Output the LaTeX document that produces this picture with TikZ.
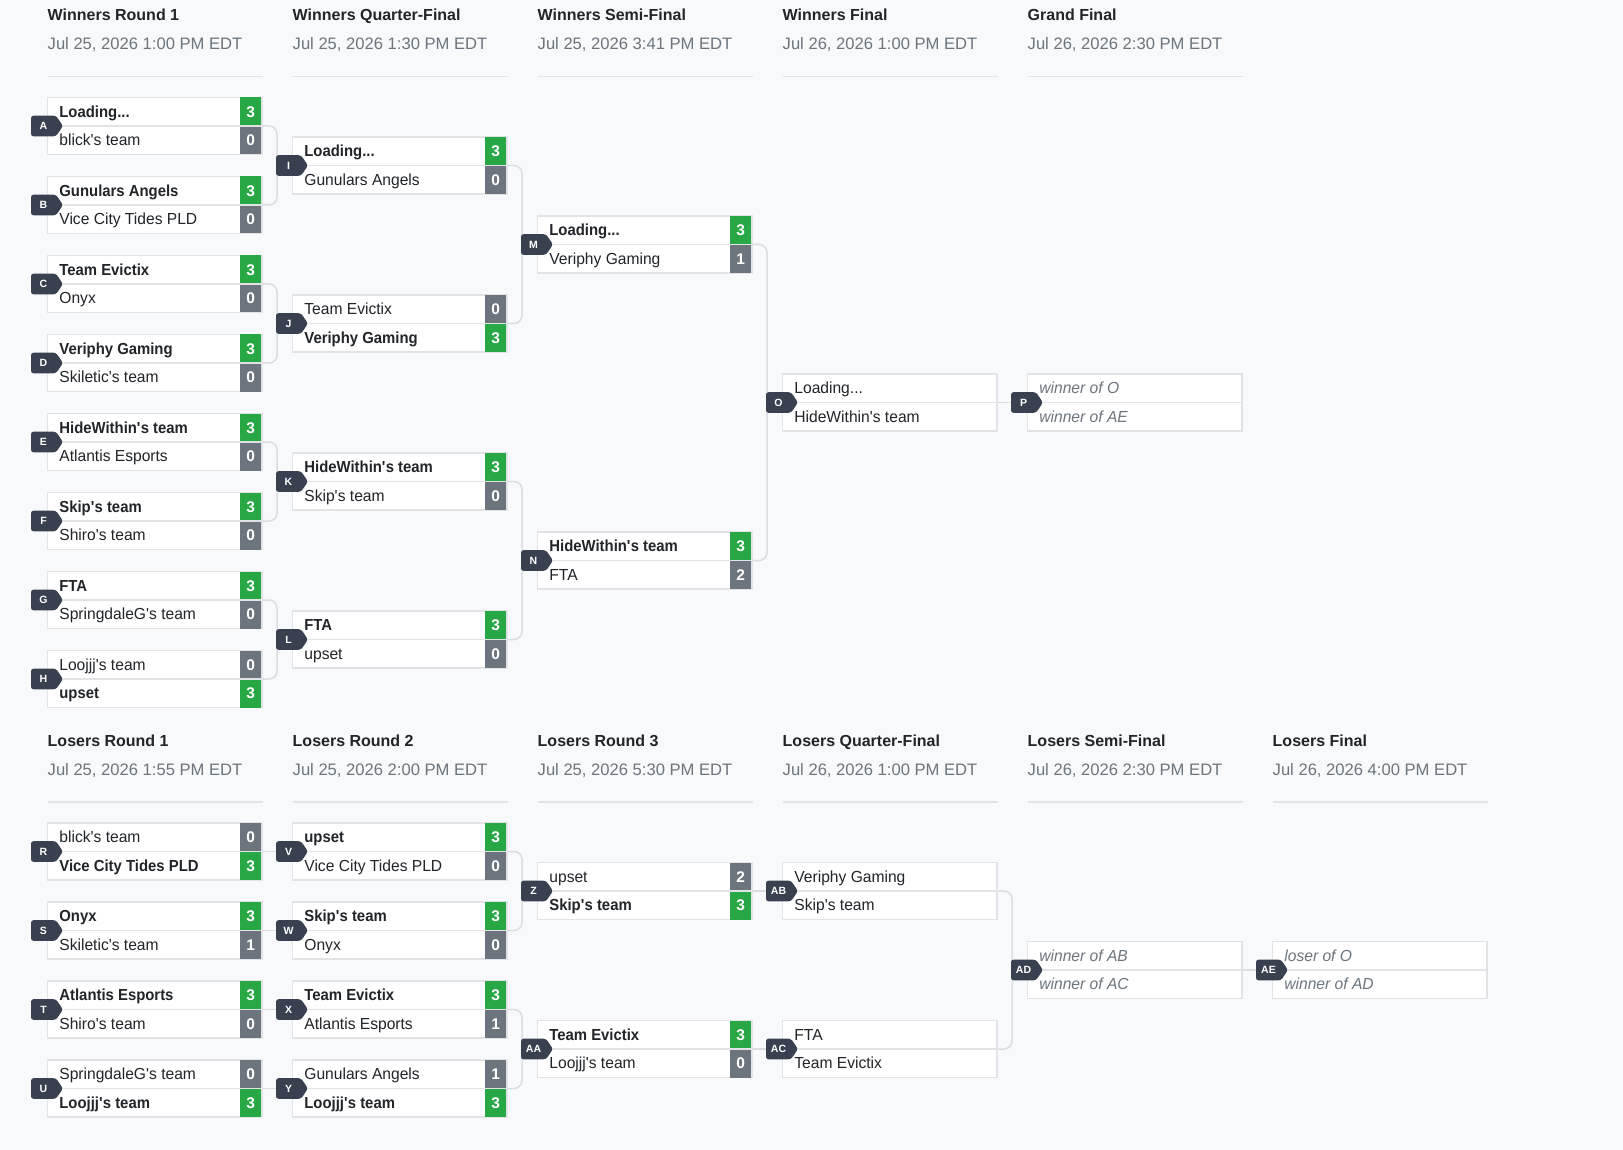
\documentclass[tikz,border=0pt]{standalone}
\usepackage{fontspec}
\setmainfont{Liberation Sans}
\newfontfamily\wnfont{Liberation Sans}[FakeStretch=0.93]
\newfontfamily\tmfont{Liberation Sans}[FakeStretch=0.975]
\usetikzlibrary{calc}
\definecolor{bgc}{HTML}{F8F9FA}
\definecolor{bordc}{HTML}{E1E3E6}
\definecolor{connc}{HTML}{DADDE1}
\definecolor{winc}{HTML}{28A745}
\definecolor{losec}{HTML}{6C757D}
\definecolor{badgec}{HTML}{394150}
\definecolor{titlec}{HTML}{212529}
\definecolor{datec}{HTML}{6C757D}
\definecolor{phc}{HTML}{6C757D}
\pgfdeclarelayer{bglayer}
\pgfdeclarelayer{connlayer}
\pgfsetlayers{bglayer,connlayer,main}
\newcommand\aps{\textquotesingle}
\newcommand\wn[1]{{\wnfont\bfseries #1}}
\tikzset{
 matchbox/.style={draw=bordc, line width=1.5pt, fill=white, minimum width=214.5pt, minimum height=57pt, inner sep=0pt, outer sep=0pt, anchor=west},
 rowline/.style={draw=bordc, line width=1.2pt},
 conn/.style={draw=connc, line width=1.5pt, rounded corners=8pt},
 team/.style={anchor=base west, inner sep=0pt, text=titlec, font=\tmfont\fontsize{16}{19}\selectfont},
 ph/.style={anchor=base west, inner sep=0pt, text=phc, font=\tmfont\itshape\fontsize{16}{19}\selectfont},
 scorebox/.style={minimum width=21pt, minimum height=28.5pt, inner sep=0pt, text=white, font=\bfseries\fontsize{15.5}{18}\selectfont, text height=11pt, text depth=0pt},
 badgetxt/.style={text=white, font=\bfseries\fontsize{10.5}{12}\selectfont, inner sep=0pt},
 roundtitle/.style={anchor=base west, inner sep=0pt, text=titlec, font=\bfseries\fontsize{16}{19}\selectfont},
 rounddate/.style={anchor=base west, inner sep=0pt, text=datec, font=\fontsize{16.6}{19}\selectfont},
 hdrline/.style={draw=bordc, line width=1.5pt},
}
% name, x, y, top team, top score, top colour, bottom team, bottom score, bottom colour
\newcommand\mtch[9]{%
 \node[matchbox] (#1) at (#2,#3) {};
 \node[scorebox, fill=#6] (#1sa) at (#2+203.25,#3-14.25) {#5};
 \node[scorebox, fill=#9] (#1sb) at (#2+203.25,#3+14.25) {#8};
 \draw[rowline] (#1.west) -- (#1.east);
 \node[team] (#1ta) at (#2+11.7,#3-8.75) {#4};
 \node[team] (#1tb) at (#2+11.7,#3+19.75) {#7};
 \fill[badgec, rounded corners=2.5pt] (#2-16.5,#3-10.3) -- (#2+8.5,#3-10.3) -- (#2+15.5,#3) -- (#2+8.5,#3+10.3) -- (#2-16.5,#3+10.3) -- cycle;
 \node[badgetxt] (b#1) at (#2-4,#3) {#1};
}
% name, x, y, style, top team, bottom team
\newcommand\mtchn[6]{%
 \node[matchbox] (#1) at (#2,#3) {};
 \draw[rowline] (#1.west) -- (#1.east);
 \node[#4] (#1ta) at (#2+11.7,#3-8.75) {#5};
 \node[#4] (#1tb) at (#2+11.7,#3+19.75) {#6};
 \fill[badgec, rounded corners=2.5pt] (#2-16.5,#3-10.3) -- (#2+8.5,#3-10.3) -- (#2+15.5,#3) -- (#2+8.5,#3+10.3) -- (#2-16.5,#3+10.3) -- cycle;
 \node[badgetxt] (b#1) at (#2-4,#3) {#1};
}
% name, x, title baseline, title, date
\newcommand\hdr[5]{%
 \node[roundtitle] (#1t) at (#2,#3) {#4};
 \node[rounddate] (#1d) at (#2,#3+29.3) {#5};
 \draw[hdrline] (#2,#3+55.6) -- (#2+215,#3+55.6);
}
\begin{document}
\begin{tikzpicture}[x=1pt,y=-1pt]
\begin{pgfonlayer}{bglayer}
\fill[bgc] (0,0) rectangle (1623,1150);
\end{pgfonlayer}
\useasboundingbox (0,0) rectangle (1623,1150);

% headers
\hdr{hwa}{47.5}{20.7}{Winners Round 1}{Jul 25, 2026 1:00 PM EDT}
\hdr{hwb}{292.5}{20.7}{Winners Quarter-Final}{Jul 25, 2026 1:30 PM EDT}
\hdr{hwc}{537.5}{20.7}{Winners Semi-Final}{Jul 25, 2026 3:41 PM EDT}
\hdr{hwd}{782.5}{20.7}{Winners Final}{Jul 26, 2026 1:00 PM EDT}
\hdr{hwe}{1027.5}{20.7}{Grand Final}{Jul 26, 2026 2:30 PM EDT}
\hdr{hla}{47.5}{746.2}{Losers Round 1}{Jul 25, 2026 1:55 PM EDT}
\hdr{hlb}{292.5}{746.2}{Losers Round 2}{Jul 25, 2026 2:00 PM EDT}
\hdr{hlc}{537.5}{746.2}{Losers Round 3}{Jul 25, 2026 5:30 PM EDT}
\hdr{hld}{782.5}{746.2}{Losers Quarter-Final}{Jul 26, 2026 1:00 PM EDT}
\hdr{hle}{1027.5}{746.2}{Losers Semi-Final}{Jul 26, 2026 2:30 PM EDT}
\hdr{hlf}{1272.5}{746.2}{Losers Final}{Jul 26, 2026 4:00 PM EDT}

% winners round 1
\mtch{A}{47.5}{126}{\wn{Loading...}}{3}{winc}{blick\aps s team}{0}{losec}
\mtch{B}{47.5}{205}{\wn{Gunulars Angels}}{3}{winc}{Vice City Tides PLD}{0}{losec}
\mtch{C}{47.5}{284}{\wn{Team Evictix}}{3}{winc}{Onyx}{0}{losec}
\mtch{D}{47.5}{363}{\wn{Veriphy Gaming}}{3}{winc}{Skiletic\aps s team}{0}{losec}
\mtch{E}{47.5}{442}{\wn{HideWithin\aps s team}}{3}{winc}{Atlantis Esports}{0}{losec}
\mtch{F}{47.5}{521}{\wn{Skip\aps s team}}{3}{winc}{Shiro\aps s team}{0}{losec}
\mtch{G}{47.5}{600}{\wn{FTA}}{3}{winc}{SpringdaleG\aps s team}{0}{losec}
\mtch{H}{47.5}{679}{Loojjj\aps s team}{0}{losec}{\wn{upset}}{3}{winc}
% winners quarter-final
\mtch{I}{292.5}{165.5}{\wn{Loading...}}{3}{winc}{Gunulars Angels}{0}{losec}
\mtch{J}{292.5}{323.5}{Team Evictix}{0}{losec}{\wn{Veriphy Gaming}}{3}{winc}
\mtch{K}{292.5}{481.5}{\wn{HideWithin\aps s team}}{3}{winc}{Skip\aps s team}{0}{losec}
\mtch{L}{292.5}{639.5}{\wn{FTA}}{3}{winc}{upset}{0}{losec}
% winners semi-final
\mtch{M}{537.5}{244.5}{\wn{Loading...}}{3}{winc}{Veriphy Gaming}{1}{losec}
\mtch{N}{537.5}{560.5}{\wn{HideWithin\aps s team}}{3}{winc}{FTA}{2}{losec}
% winners final, grand final
\mtchn{O}{782.5}{402.5}{team}{Loading...}{HideWithin\aps s team}
\mtchn{P}{1027.5}{402.5}{ph}{winner of O}{winner of AE}

% losers round 1
\mtch{R}{47.5}{851.5}{blick\aps s team}{0}{losec}{\wn{Vice City Tides PLD}}{3}{winc}
\mtch{S}{47.5}{930.5}{\wn{Onyx}}{3}{winc}{Skiletic\aps s team}{1}{losec}
\mtch{T}{47.5}{1009.5}{\wn{Atlantis Esports}}{3}{winc}{Shiro\aps s team}{0}{losec}
\mtch{U}{47.5}{1088.5}{SpringdaleG\aps s team}{0}{losec}{\wn{Loojjj\aps s team}}{3}{winc}
% losers round 2
\mtch{V}{292.5}{851.5}{\wn{upset}}{3}{winc}{Vice City Tides PLD}{0}{losec}
\mtch{W}{292.5}{930.5}{\wn{Skip\aps s team}}{3}{winc}{Onyx}{0}{losec}
\mtch{X}{292.5}{1009.5}{\wn{Team Evictix}}{3}{winc}{Atlantis Esports}{1}{losec}
\mtch{Y}{292.5}{1088.5}{Gunulars Angels}{1}{losec}{\wn{Loojjj\aps s team}}{3}{winc}
% losers round 3
\mtch{Z}{537.5}{891}{upset}{2}{losec}{\wn{Skip\aps s team}}{3}{winc}
\mtch{AA}{537.5}{1049}{\wn{Team Evictix}}{3}{winc}{Loojjj\aps s team}{0}{losec}
% losers quarter-final
\mtchn{AB}{782.5}{891}{team}{Veriphy Gaming}{Skip\aps s team}
\mtchn{AC}{782.5}{1049}{team}{FTA}{Team Evictix}
% losers semi-final, final
\mtchn{AD}{1027.5}{970}{ph}{winner of AB}{winner of AC}
\mtchn{AE}{1272.5}{970}{ph}{loser of O}{winner of AD}

% connectors
\begin{pgfonlayer}{connlayer}
\draw[conn] (A.east) -- ++(15,0) |- (B.east);
\draw[conn] (C.east) -- ++(15,0) |- (D.east);
\draw[conn] (E.east) -- ++(15,0) |- (F.east);
\draw[conn] (G.east) -- ++(15,0) |- (H.east);
\draw[conn] (I.east) -- ++(15,0) |- (J.east);
\draw[conn] (K.east) -- ++(15,0) |- (L.east);
\draw[conn] (M.east) -- ++(15,0) |- (N.east);
\draw[conn] (O.east) -- (P.west);
\draw[conn] (R.east) -- (V.west);
\draw[conn] (S.east) -- (W.west);
\draw[conn] (T.east) -- (X.west);
\draw[conn] (U.east) -- (Y.west);
\draw[conn] (V.east) -- ++(15,0) |- (W.east);
\draw[conn] (X.east) -- ++(15,0) |- (Y.east);
\draw[conn] (Z.east) -- (AB.west);
\draw[conn] (AA.east) -- (AC.west);
\draw[conn] (AB.east) -- ++(15,0) |- (AC.east);
\draw[conn] (AD.east) -- (AE.west);
\end{pgfonlayer}
\end{tikzpicture}
\end{document}
